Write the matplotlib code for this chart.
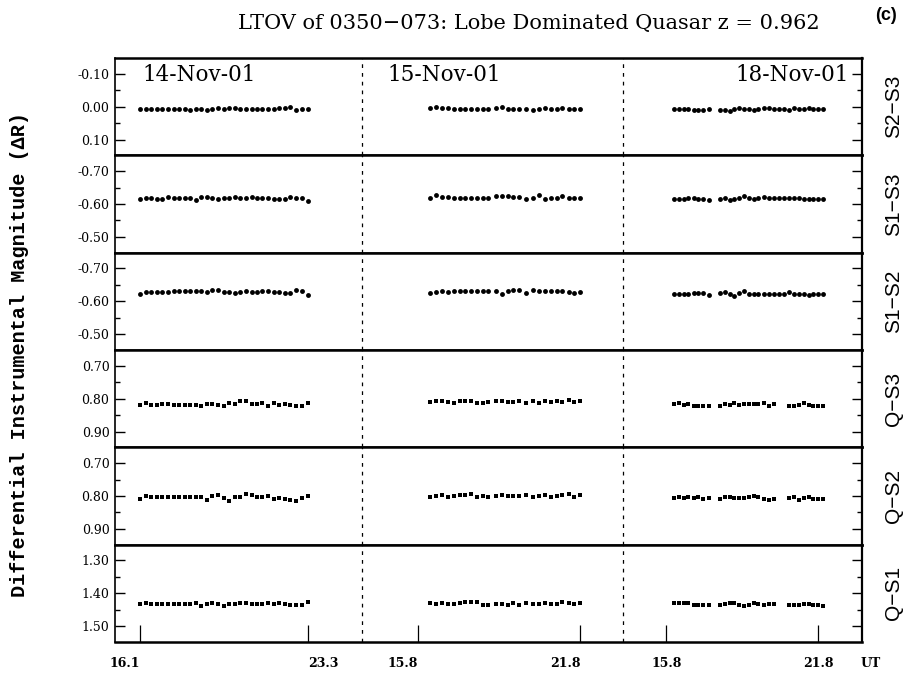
import numpy as np
import matplotlib
matplotlib.use('Agg')
import matplotlib.pyplot as plt

plt.rcParams['axes.unicode_minus'] = False
nan = np.nan

# UT (hours) of each frame, one list per night
ut_n1 = [16.10, 16.34, 16.58, 16.82, 17.06, 17.30, 17.54, 17.78, 18.02, 18.26,
         18.48, 18.72, 18.96, 19.20, 19.44, 19.68, 19.92, 20.16, 20.40, 20.64,
         20.88, 21.12, 21.34, 21.58, 21.82, 22.06, 22.30, 22.54, 22.78, 23.02, 23.30]
ut_n2 = [16.24, 16.47, 16.68, 16.89, 17.13, 17.34, 17.55, 17.76, 17.97, 18.18,
         18.39, 18.69, 18.90, 19.11, 19.32, 19.53, 19.79, 20.05, 20.27, 20.49,
         20.70, 20.92, 21.14, 21.37, 21.58, 21.80]
ut_n3 = [16.11, 16.31, 16.51, 16.67, 16.87, 17.05, 17.25, 17.49, 17.91, 18.10,
         18.30, 18.47, 18.66, 18.86, 19.05, 19.25, 19.43, 19.64, 19.84, 20.04,
         20.23, 20.43, 20.62, 20.82, 21.02, 21.21, 21.41, 21.60, 21.80, 21.96]

dates = ['14-Nov-01', '15-Nov-01', '18-Nov-01']
ut_ticks = [(16.1, 23.3), (15.8, 21.8), (15.8, 21.8)]

panel_names = ['S2\u2212S3', 'S1\u2212S3', 'S1\u2212S2', 'Q\u2212S3', 'Q\u2212S2', 'Q\u2212S1']
panel_centres = [0.0, -0.6, -0.6, 0.8, 0.8, 1.4]

# differential magnitudes, one list per night
s2s3_n1 = [0.006, 0.007, 0.008, 0.008, 0.007, 0.006, 0.007, 0.008, 0.008, 0.009,
           0.006, 0.008, 0.010, 0.007, 0.004, 0.008, 0.005, 0.003, 0.006, 0.006,
           0.007, 0.006, 0.006, 0.007, 0.006, 0.005, 0.005, 0.001, 0.010, 0.007, 0.007]
s2s3_n2 = [0.005, 0.001, 0.004, 0.005, 0.007, 0.006, 0.007, 0.006, 0.007, 0.007,
           0.006, 0.004, 0.000, 0.006, 0.007, 0.007, 0.008, 0.010, 0.006, 0.003,
           0.006, 0.006, 0.005, 0.006, 0.007, 0.006]
s2s3_n3 = [0.006, 0.007, 0.006, 0.008, 0.009, 0.011, 0.009, 0.008, 0.010, 0.010,
           0.013, 0.006, 0.005, 0.007, 0.007, 0.009, 0.008, 0.004, 0.003, 0.006,
           0.007, 0.008, 0.009, 0.005, 0.007, 0.006, 0.004, 0.007, 0.007, 0.007]

s1s3_n1 = [-0.614, -0.617, -0.617, -0.614, -0.614, -0.621, -0.617, -0.617, -0.617, -0.617,
           -0.612, -0.621, -0.621, -0.617, -0.614, -0.617, -0.617, -0.621, -0.617, -0.617,
           -0.621, -0.617, -0.617, -0.617, -0.614, -0.614, -0.614, -0.621, -0.617, -0.617, -0.609]
s1s3_n2 = [-0.617, -0.627, -0.622, -0.622, -0.619, -0.619, -0.619, -0.619, -0.619, -0.619,
           -0.619, -0.624, -0.624, -0.624, -0.622, -0.622, -0.614, -0.619, -0.627, -0.616,
           -0.617, -0.619, -0.624, -0.619, -0.619, -0.619]
s1s3_n3 = [-0.616, -0.616, -0.614, -0.617, -0.617, -0.616, -0.616, -0.613, -0.614, -0.619,
           -0.612, -0.614, -0.619, -0.625, -0.617, -0.614, -0.619, -0.621, -0.617, -0.617,
           -0.617, -0.617, -0.617, -0.617, -0.617, -0.616, -0.616, -0.616, -0.616, -0.616]

s1s2_n1 = [-0.622, -0.627, -0.629, -0.627, -0.627, -0.629, -0.630, -0.630, -0.630, -0.630,
           -0.630, -0.630, -0.627, -0.634, -0.634, -0.627, -0.627, -0.624, -0.627, -0.630,
           -0.627, -0.627, -0.630, -0.630, -0.627, -0.627, -0.624, -0.624, -0.634, -0.630, -0.619]
s1s2_n2 = [-0.624, -0.627, -0.630, -0.627, -0.630, -0.630, -0.630, -0.630, -0.630, -0.630,
           -0.630, -0.630, -0.622, -0.632, -0.634, -0.636, -0.624, -0.634, -0.632, -0.630,
           -0.630, -0.632, -0.630, -0.627, -0.625, -0.627]
s1s2_n3 = [-0.621, -0.621, -0.622, -0.622, -0.624, -0.626, -0.624, -0.619, -0.624, -0.627,
           -0.622, -0.617, -0.624, -0.630, -0.622, -0.621, -0.621, -0.621, -0.621, -0.621,
           -0.622, -0.622, -0.627, -0.622, -0.622, -0.622, -0.619, -0.621, -0.621, -0.621]

qs3_n1 = [0.820, 0.813, 0.819, 0.819, 0.817, 0.815, 0.819, 0.819, 0.819, 0.819,
          0.819, 0.821, 0.815, 0.815, 0.820, 0.823, 0.813, 0.817, 0.808, 0.808,
          0.815, 0.815, 0.813, 0.821, 0.813, 0.820, 0.817, 0.819, 0.823, 0.823, 0.813]
qs3_n2 = [0.810, 0.807, 0.807, 0.811, 0.812, 0.808, 0.806, 0.806, 0.812, 0.812,
          0.811, 0.808, 0.807, 0.809, 0.811, 0.806, 0.813, 0.808, 0.814, 0.808,
          0.811, 0.807, 0.809, 0.804, 0.811, 0.807]
qs3_n3 = [0.817, 0.814, 0.819, 0.815, 0.821, 0.821, 0.823, 0.823, 0.823, 0.816,
          0.820, 0.814, 0.819, 0.815, 0.816, 0.816, 0.816, 0.813, 0.821, 0.816,
          nan, nan, 0.821, 0.821, 0.818, 0.814, 0.819, 0.823, 0.823, 0.823]

qs2_n1 = [0.810, 0.801, 0.804, 0.804, 0.804, 0.804, 0.804, 0.804, 0.804, 0.804,
          0.804, 0.804, 0.811, 0.801, 0.797, 0.806, 0.814, 0.804, 0.804, 0.795,
          0.797, 0.804, 0.804, 0.800, 0.809, 0.806, 0.809, 0.811, 0.816, 0.806, 0.801]
qs2_n2 = [0.802, 0.801, 0.798, 0.802, 0.801, 0.796, 0.796, 0.794, 0.802, 0.801,
          0.804, 0.801, 0.798, 0.800, 0.800, 0.801, 0.798, 0.804, 0.801, 0.798,
          0.802, 0.801, 0.797, 0.793, 0.802, 0.798]
qs2_n3 = [0.805, 0.803, 0.806, 0.803, 0.806, 0.803, 0.810, 0.805, 0.808, 0.803,
          0.803, 0.806, 0.806, 0.806, 0.802, 0.801, 0.804, 0.810, 0.812, 0.808,
          nan, nan, 0.806, 0.803, 0.812, 0.806, 0.803, 0.808, 0.810, 0.810]

qs1_n1 = [1.432, 1.429, 1.432, 1.431, 1.432, 1.433, 1.433, 1.433, 1.433, 1.431,
          1.430, 1.437, 1.432, 1.430, 1.433, 1.437, 1.431, 1.433, 1.429, 1.428,
          1.432, 1.432, 1.433, 1.430, 1.433, 1.430, 1.431, 1.434, 1.436, 1.436, 1.426]
qs1_n2 = [1.430, 1.433, 1.429, 1.433, 1.433, 1.429, 1.427, 1.427, 1.427, 1.434,
          1.434, 1.432, 1.432, 1.434, 1.430, 1.434, 1.428, 1.433, 1.433, 1.429,
          1.433, 1.432, 1.425, 1.429, 1.431, 1.430]
qs1_n3 = [1.429, 1.428, 1.430, 1.430, 1.436, 1.436, 1.436, 1.436, 1.434, 1.432,
          1.430, 1.429, 1.436, 1.438, 1.434, 1.430, 1.431, 1.436, 1.433, 1.433,
          nan, nan, 1.434, 1.434, 1.436, 1.431, 1.433, 1.434, 1.435, 1.437]

uts = [ut_n1, ut_n2, ut_n3]
series = [
    [s2s3_n1, s2s3_n2, s2s3_n3],
    [s1s3_n1, s1s3_n2, s1s3_n3],
    [s1s2_n1, s1s2_n2, s1s2_n3],
    [qs3_n1, qs3_n2, qs3_n3],
    [qs2_n1, qs2_n2, qs2_n3],
    [qs1_n1, qs1_n2, qs1_n3],
]

# where each night sits along the shared x axis (arbitrary units 0-746)
night_span = [(25, 193), (303, 465), (551, 703)]
night_breaks = [247, 508]


def to_axis(ut, night):
    lo, hi = ut_ticks[night]
    a, b = night_span[night]
    return a + (np.asarray(ut) - lo) * (b - a) / (hi - lo)


serif = 'DejaVu Serif'
fig, axes = plt.subplots(6, 1, sharex=True, figsize=(9.17, 6.77), dpi=100)
fig.subplots_adjust(left=0.1254, right=0.9395, top=0.9143, bottom=0.0517, hspace=0)

for i, ax in enumerate(axes):
    c = panel_centres[i]
    mk, ms = ('o', 3.5) if i < 3 else ('s', 3.2)
    for n in range(3):
        ax.plot(to_axis(uts[n], n), series[i][n], mk, color='k', ms=ms, mew=0, ls='none')
    for xb in night_breaks:
        ax.axvline(xb, color='k', lw=0.9, ls=(0, (3, 4)))

    ax.set_xlim(0, 746)
    ax.set_ylim(c + 0.148, c - 0.148)
    ax.set_yticks([c - 0.1, c, c + 0.1])
    ax.set_yticklabels(['%.2f' % v for v in [c - 0.1, c, c + 0.1]],
                       fontsize=9, family=serif)
    ax.set_yticks([c - 0.05, c + 0.05], minor=True)
    ax.tick_params(axis='y', which='both', direction='in', left=True, right=True,
                   labelright=False, width=1, pad=4)
    ax.tick_params(axis='y', which='major', length=7)
    ax.tick_params(axis='y', which='minor', length=3.5)
    for side in ['top', 'bottom']:
        ax.spines[side].set_linewidth(1.8)
    ax.spines['left'].set_linewidth(1.2)
    ax.spines['right'].set_linewidth(1.6)

    fig.text(0.974, 1 - (i + 0.5) / 6 * (0.9143 - 0.0517) - (1 - 0.9143), panel_names[i],
             rotation=90, ha='center', va='center', fontsize=15, family='Liberation Sans')

    if i < 5:
        ax.tick_params(axis='x', bottom=False, labelbottom=False)

# x ticks only on the bottom panel
bottom = axes[-1]
tick_pos = []
tick_lab = []
for n in range(3):
    for u in ut_ticks[n]:
        tick_pos.append(to_axis(u, n))
        tick_lab.append('%.1f' % u)
bottom.set_xticks(tick_pos)
bottom.set_xticklabels(tick_lab, fontsize=9, fontweight='bold', family=serif)
bottom.tick_params(axis='x', direction='in', length=12, width=0.9, pad=11)
for lab, ha in zip(bottom.get_xticklabels(), ['right', 'left', 'right', 'right', 'center', 'center']):
    lab.set_ha(ha)
bottom.text(1.012, -0.22, 'UT', transform=bottom.transAxes, ha='center', va='center',
            fontsize=9, fontweight='bold', family=serif)

# dates in the top panel
top = axes[0]
top.text(27, 0.83, dates[0], transform=top.get_xaxis_transform(), ha='left', va='center',
         fontsize=15.5, family=serif)
top.text(272, 0.83, dates[1], transform=top.get_xaxis_transform(), ha='left', va='center',
         fontsize=15.5, family=serif)
top.text(733, 0.83, dates[2], transform=top.get_xaxis_transform(), ha='right', va='center',
         fontsize=15.5, family=serif)

fig.text(0.577, 0.966, 'LTOV of 0350\u2212073: Lobe Dominated Quasar z = 0.962',
         ha='center', va='center', fontsize=15, family=serif)
fig.text(0.966, 0.977, '(c)', ha='center', va='center', fontsize=13,
         fontweight='bold', family='Liberation Sans')
fig.text(0.021, 0.477, 'Differential Instrumental Magnitude (\u0394R)', rotation=90,
         ha='center', va='center', fontsize=14.5, fontweight='bold', family='Liberation Mono')

fig.savefig('out.png', dpi=100, facecolor='white')
